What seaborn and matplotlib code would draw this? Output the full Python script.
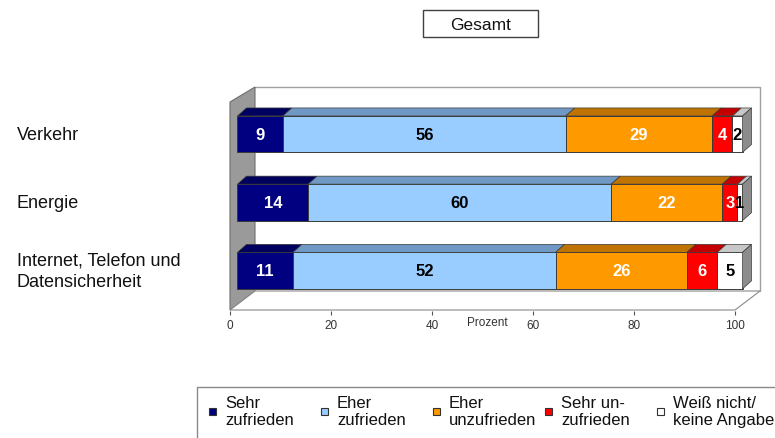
import numpy as np
import pandas as pd
import matplotlib
matplotlib.use("Agg")
import matplotlib.pyplot as plt
import seaborn as sns
from matplotlib.patches import Rectangle, Polygon
from matplotlib.transforms import ScaledTranslation, blended_transform_factory

# --- data ---------------------------------------------------------------
categories = ["Verkehr", "Energie", "Internet, Telefon und\nDatensicherheit"]
series_names = ["Sehr\nzufrieden", "Eher\nzufrieden", "Eher\nunzufrieden",
                "Sehr un-\nzufrieden", "Weiß nicht/\nkeine Angabe"]
sehr_zufrieden = [9, 14, 11]
eher_zufrieden = [56, 60, 52]
eher_unzufrieden = [29, 22, 26]
sehr_unzufrieden = [4, 3, 6]
weiss_nicht = [2, 1, 5]
x_ticks = [0, 20, 40, 60, 80, 100]
title = "Gesamt"
x_label = "Prozent"

series_values = [sehr_zufrieden, eher_zufrieden, eher_unzufrieden,
                 sehr_unzufrieden, weiss_nicht]

# --- style --------------------------------------------------------------
face_colors = ["#000080", "#99CCFF", "#FF9900", "#FF0000", "#FFFFFF"]
top_colors = ["#00005E", "#6F98C4", "#BF7300", "#C40000", "#C8C8C8"]
text_colors = ["white", "black", "white", "white", "black"]
EDGE = "#3A3A3A"
SIDE = "#8C8C8C"

sns.set_theme(style="white")
plt.rcParams["font.family"] = ["Liberation Sans", "DejaVu Sans"]

W, H, DPI = 775, 439, 100
fig = plt.figure(figsize=(W / DPI, H / DPI), dpi=DPI)

# plot box in pixels (front floor edge / back wall)
LEFT_PX, RIGHT_PX, TOP_PX, BOTTOM_PX = 230, 760, 88, 312
PX_PER_UNIT = 5.05           # horizontal scale, percent -> pixels
ROW0_PX, ROW_STEP_PX = 135.2, 68.2
ax = fig.add_axes([LEFT_PX / W, 1 - BOTTOM_PX / H,
                   (RIGHT_PX - LEFT_PX) / W, (BOTTOM_PX - TOP_PX) / H])

def ux(px):   # pixel distance -> x data units
    return px / PX_PER_UNIT

def uy(px):   # pixel distance -> y data units
    return px / ROW_STEP_PX

BAR_H = uy(36.5)
BAR_SHIFT_PX = 7.5               # bars sit a little behind the front plane
TOP_DX, TOP_DY = ux(9), -uy(8)   # depth of the bar blocks
WALL_DX = ux(25)

shift = ax.transData + ScaledTranslation(BAR_SHIFT_PX / DPI, 0, fig.dpi_scale_trans)

# --- stacked bars ---------------------------------------------------------
left = np.zeros(len(categories))
for vals, col in zip(series_values, face_colors):
    df = pd.DataFrame({"Kategorie": categories, "Prozent": vals})
    n_before = len(ax.patches)
    sns.barplot(data=df, x="Prozent", y="Kategorie", order=categories,
                orient="y", color=col, saturation=1, width=BAR_H,
                left=left.copy(), errorbar=None, edgecolor=EDGE,
                linewidth=0.7, ax=ax, zorder=3)
    for p in ax.patches[n_before:]:
        p.set_transform(shift)
        p.set_clip_on(False)
    left += np.asarray(vals, dtype=float)

# axis ranges
ax.set_xlim(0, ux(RIGHT_PX - LEFT_PX))
ax.set_ylim(uy(BOTTOM_PX - ROW0_PX), uy(TOP_PX - ROW0_PX))

# --- 3D frame: left wall, floor, back wall ------------------------------
y_back_top = uy(TOP_PX - ROW0_PX)
y_front_top = uy(103 - ROW0_PX)
y_front_bot = uy(311 - ROW0_PX)
y_back_bot = uy(292 - ROW0_PX)
x_end = ux(RIGHT_PX - LEFT_PX)

ax.add_patch(Polygon([(0, y_front_top), (WALL_DX, y_back_top),
                      (WALL_DX, y_back_bot), (0, y_front_bot)],
                     closed=True, fc="#9A9A9A", ec="#6E6E6E", lw=0.8,
                     zorder=1, clip_on=False))
ax.add_patch(Polygon([(0, y_front_bot), (100, y_front_bot),
                      (100 + WALL_DX, y_back_bot), (WALL_DX, y_back_bot)],
                     closed=True, fc="white", ec="#8A8A8A", lw=0.8,
                     zorder=1, clip_on=False))
ax.plot([WALL_DX, x_end, x_end], [y_back_top, y_back_top, y_back_bot],
        color="#A0A0A0", lw=1.0, zorder=0.5, clip_on=False)

# --- block tops, right side faces, value labels --------------------------
starts = np.zeros(len(categories))
for j, vals in enumerate(series_values):
    for i, v in enumerate(vals):
        x0 = starts[i]
        x1 = x0 + v
        top = i - BAR_H / 2
        ax.add_patch(Polygon([(x0, top), (x1, top),
                              (x1 + TOP_DX, top + TOP_DY),
                              (x0 + TOP_DX, top + TOP_DY)],
                             closed=True, fc=top_colors[j], ec=EDGE, lw=0.5,
                             transform=shift, zorder=3, clip_on=False))
        ax.text(x0 + v / 2, i, str(v), ha="center", va="center",
                color=text_colors[j], fontsize=12, fontweight="bold",
                transform=shift, zorder=5)
    starts += np.asarray(vals, dtype=float)

for i, total in enumerate(starts):
    top = i - BAR_H / 2
    bot = i + BAR_H / 2
    ax.add_patch(Polygon([(total, top), (total + TOP_DX, top + TOP_DY),
                          (total + TOP_DX, bot + TOP_DY), (total, bot)],
                         closed=True, fc=SIDE, ec=EDGE, lw=0.5,
                         transform=shift, zorder=3, clip_on=False))

# --- axes cosmetics ------------------------------------------------------
for s in ["top", "right", "left", "bottom"]:
    ax.spines[s].set_visible(False)
ax.set_xticks(x_ticks)
ax.set_xticklabels([str(t) for t in x_ticks])
ax.tick_params(axis="x", bottom=True, length=3, width=0.8, color="#555555",
               pad=3, labelsize=8.5, labelcolor="#333333")
ax.set_yticks([])
ax.set_xlabel("")
ax.set_ylabel("")
ax.patch.set_alpha(0)

ax.annotate(x_label, xy=(50.9, 0), xycoords=("data", "axes fraction"),
            xytext=(0, -11), textcoords="offset pixels",
            ha="center", va="center", fontsize=8.5, color="#333333")

# category labels at the left margin
lab_tr = blended_transform_factory(fig.transFigure, ax.transData)
for i, cat in enumerate(categories):
    ax.text(17 / W, i, cat, transform=lab_tr, ha="left", va="center",
            fontsize=13, linespacing=1.3, color="#111111")

# --- title box -----------------------------------------------------------
fig.patches.append(Rectangle((423 / W, 1 - 38 / H), 115 / W, 27 / H,
                             transform=fig.transFigure, fill=False,
                             ec="#404040", lw=1.0))
fig.text(480.5 / W, 1 - 25 / H, title, ha="center", va="center",
         fontsize=12.5, color="#111111")

# --- legend --------------------------------------------------------------
fig.patches.append(Rectangle((197 / W, 1 - 470 / H), 620 / W, 82 / H,
                             transform=fig.transFigure, fill=False,
                             ec="#8A8A8A", lw=1.0))
for k, (name, col) in enumerate(zip(series_names, face_colors)):
    mx = 212 + 112 * k
    my = 412
    fig.patches.append(Rectangle(((mx - 3.5) / W, 1 - (my + 3.5) / H),
                                 7 / W, 7 / H, transform=fig.transFigure,
                                 fc=col, ec="#333333", lw=0.8))
    fig.text((mx + 13) / W, 1 - my / H, name, ha="left", va="center",
             fontsize=12, linespacing=1.15, color="#111111")

fig.savefig("out.png", dpi=DPI)
